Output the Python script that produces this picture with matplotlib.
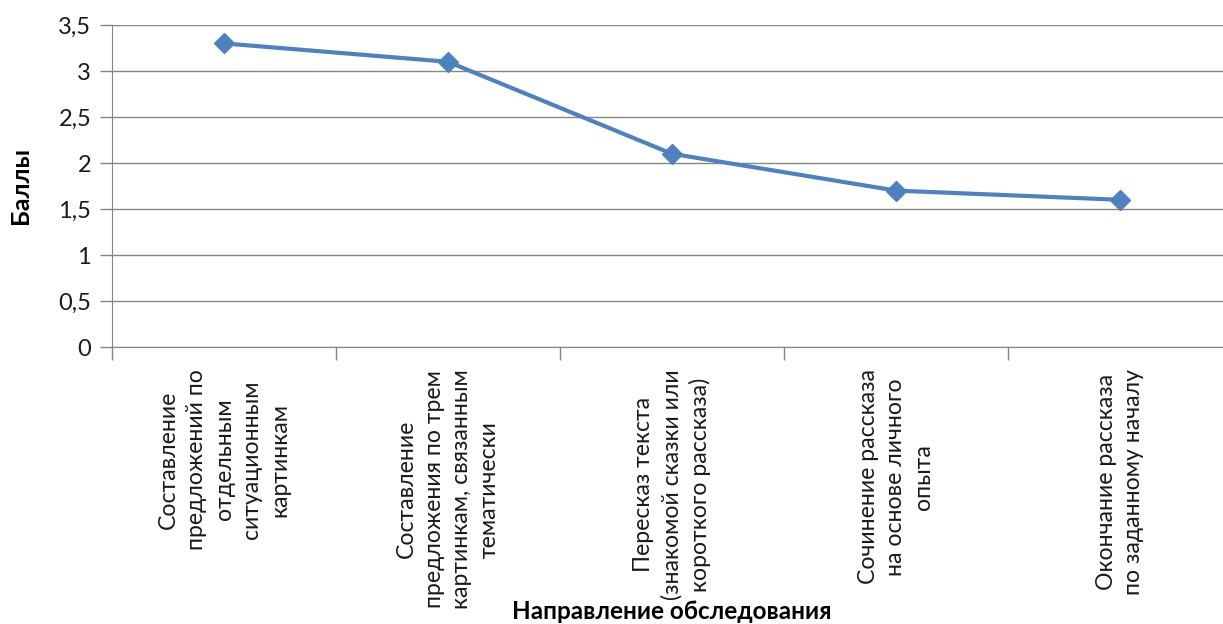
import matplotlib
matplotlib.use("Agg")
import matplotlib.pyplot as plt
from matplotlib.ticker import FixedLocator, FuncFormatter

# Data
categories = [
    "Составление\nпредложений по\nотдельным\nситуационным\nкартинкам",
    "Составление\nпредложения по трем\nкартинкам, связанным\nтематически",
    "Пересказ текста\n(знакомой сказки или\nкороткого рассказа)",
    "Сочинение рассказа\nна основе личного\nопыта",
    "Окончание рассказа\nпо заданному началу",
]
scores = [3.3, 3.1, 2.1, 1.7, 1.6]
y_ticks = [0, 0.5, 1, 1.5, 2, 2.5, 3, 3.5]

plt.rcParams['font.family'] = ['Lato', 'DejaVu Sans']

fig = plt.figure(figsize=(12.23, 6.24), dpi=100)
ax = fig.add_axes([112 / 1223, 277 / 624, 1120 / 1223, 322 / 624])

x = list(range(len(scores)))
ax.plot(x, scores, color='#4F81BD', linewidth=3, marker='D', markersize=10,
        markerfacecolor='#4F81BD', markeredgecolor='#4F81BD', zorder=3)

ax.set_xlim(-0.5, len(scores) - 0.5)
ax.set_ylim(0, 3.5)
ax.set_yticks(y_ticks)
ax.yaxis.set_major_formatter(FuncFormatter(lambda v, p: f"{v:g}".replace('.', ',')))
ax.grid(axis='y', color='#868686', linewidth=1)
ax.set_axisbelow(True)

ax.set_xticks(x)
ax.set_xticklabels(categories, rotation=90, ha='center', va='top',
                   multialignment='center', fontsize=16.6, linespacing=1.4,
                   color='#1a1a1a')
ax.xaxis.set_minor_locator(FixedLocator([i - 0.5 for i in range(len(scores) + 1)]))
ax.tick_params(axis='x', which='major', length=0, pad=16)
ax.tick_params(axis='x', which='minor', length=9, color='#868686', width=1)
ax.tick_params(axis='y', length=9, color='#868686', width=1, labelsize=17,
               labelcolor='#1a1a1a', pad=6)

for side in ['top', 'right']:
    ax.spines[side].set_visible(False)
for side in ['left', 'bottom']:
    ax.spines[side].set_color('#868686')

ax.set_ylabel("Баллы", fontsize=18, fontweight='bold', labelpad=19)
fig.text(672 / 1223, 5 / 624, "Направление обследования", ha='center', va='baseline',
         fontsize=17.5, fontweight='bold')

fig.savefig("out.png", dpi=100)
